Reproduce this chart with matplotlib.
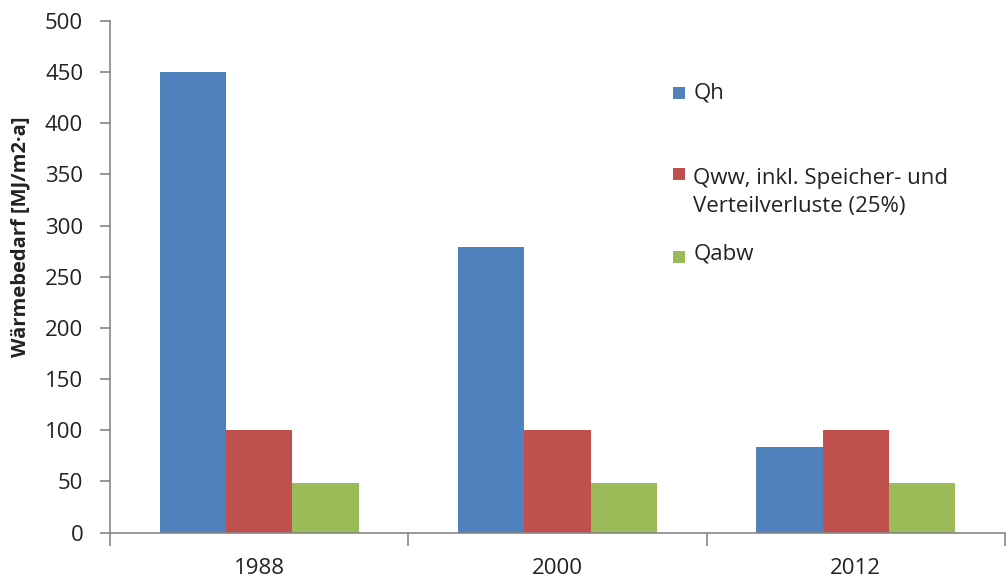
import numpy as np
import matplotlib
matplotlib.use("Agg")
import matplotlib.pyplot as plt
from matplotlib.patches import Rectangle

plt.rcParams['font.family'] = ['Open Sans', 'DejaVu Sans']

years = ['1988', '2000', '2012']
qh = [450, 279, 84]
qww = [100, 100, 100]
qabw = [49, 49, 49]
series_labels = ['Qh', 'Qww, inkl. Speicher- und\nVerteilverluste (25%)', 'Qabw']
colors = ['#4F81BD', '#C0504D', '#9BBB59']
axis_color = '#868686'
text_color = '#222222'

fig = plt.figure(figsize=(10.08, 5.79), dpi=100)
ax = fig.add_axes([0.109, 0.080, 0.888, 0.884])

x = np.arange(len(years))
w = 1 / 4.5  # gap width 150 %
for i, vals in enumerate([qh, qww, qabw]):
    ax.bar(x + (i - 1) * w, vals, width=w, color=colors[i], edgecolor='none', zorder=2)

ax.set_xlim(-0.5, len(years) - 0.5)
ax.set_ylim(0, 500)
ax.set_yticks(np.arange(0, 501, 50))
ax.set_xticks(x)
ax.set_xticklabels(years)
ax.set_xticks(np.arange(-0.5, len(years)), minor=True)

for side in ['top', 'right']:
    ax.spines[side].set_visible(False)
for side in ['left', 'bottom']:
    ax.spines[side].set_color(axis_color)
    ax.spines[side].set_linewidth(1.2)

ax.tick_params(axis='y', length=7.2, width=1.2, color=axis_color, labelsize=16, pad=12, labelcolor=text_color)
ax.tick_params(axis='x', which='major', length=0, labelsize=16, pad=18, labelcolor=text_color)
ax.tick_params(axis='x', which='minor', length=9.4, width=1.2, color=axis_color)

ax.set_ylabel('Wärmebedarf [MJ/m2·a]', fontsize=14.5, fontweight='bold', color=text_color)
ax.yaxis.label.set_va('center')
ax.yaxis.set_label_coords(-0.1, 0.578)

# legend entries drawn by hand to get the uneven Excel spacing
box_y = [0.859, 0.701, 0.538]
text_y = [0.859, 0.665, 0.544]
for c, lab, by, ty in zip(colors, series_labels, box_y, text_y):
    ax.add_patch(Rectangle((0.629, by - 0.0118), 0.0134, 0.0235, transform=ax.transAxes,
                           facecolor=c, edgecolor='none', clip_on=False))
    ax.text(0.652, ty, lab, transform=ax.transAxes, fontsize=16, va='center',
            ha='left', color=text_color, linespacing=1.45)

fig.savefig('out.png', dpi=100)
